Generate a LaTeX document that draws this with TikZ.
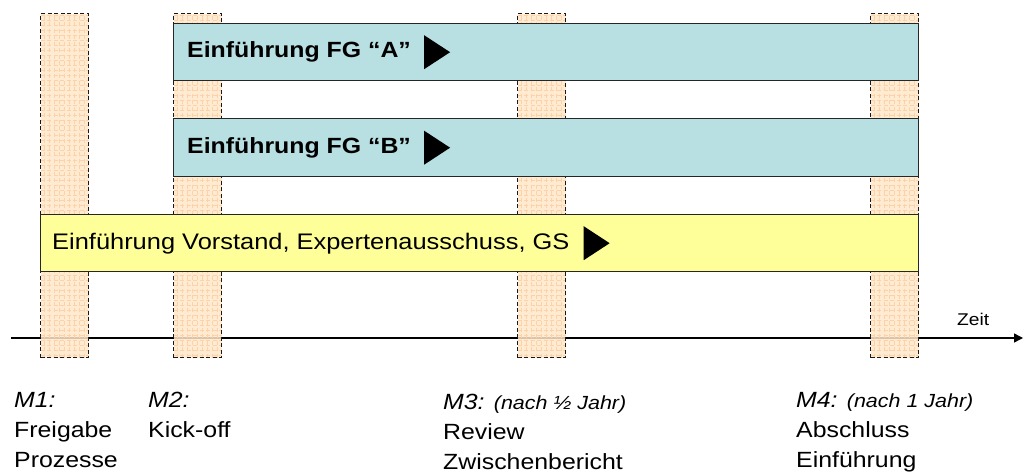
\documentclass[tikz,border=0pt]{standalone}
\usepackage{fontspec}
\setmainfont{Liberation Sans}[FakeStretch=1.13]
\usetikzlibrary{arrows.meta}
\definecolor{barblue}{RGB}{184,223,226}
\definecolor{baryellow}{RGB}{255,255,153}
\definecolor{milefill}{RGB}{255,230,202}
\definecolor{milegrid}{RGB}{253,210,168}
\begin{document}
\begin{tikzpicture}[x=1pt,y=-1pt,
  milestone/.style={draw=black!90, line width=1.3pt, dash pattern=on 4pt off 2.5pt,
    fill=milefill, fill opacity=0.85, minimum width=48pt, minimum height=344pt,
    anchor=north west, inner sep=0pt,
    path picture={\draw[milegrid, line width=1pt]
      (path picture bounding box.south west) grid[step=5pt]
      (path picture bounding box.north east);}},
  phase/.style={draw=black!85, line width=1.4pt, minimum height=57pt,
    anchor=north west, inner sep=0pt},
  phasetext/.style={anchor=west, inner sep=0pt, font=\fontsize{22}{26}\selectfont},
  mlabel/.style={anchor=north west, inner sep=0pt, align=left,
    font=\fontsize{22}{30}\selectfont},
  tri/.style={fill=black}
]
\useasboundingbox (0,0) rectangle (1027,473);

% time axis
\coordinate (t0) at (11,338);
\coordinate (t1) at (1023,338);
\draw[line width=1.4pt, -{Triangle[length=9pt,width=9pt]}] (t0) -- (t1);
\node[anchor=base west, inner sep=0pt, font=\fontsize{17}{20}\selectfont] (zeit) at (957,325) {Zeit};

% milestone columns
\node[milestone] (m1) at (40,13) {};
\node[milestone] (m2) at (173,13) {};
\node[milestone] (m3) at (517,13) {};
\node[milestone] (m4) at (870,13) {};

% phases
\node[phase, fill=barblue, minimum width=745pt] (fgA) at (173,23) {};
\node[phase, fill=barblue, minimum width=745pt, minimum height=58pt] (fgB) at (173,118) {};
\node[phase, fill=baryellow, minimum width=878pt] (vs) at (40,214) {};

\node[phasetext, font=\fontsize{22}{26}\selectfont\bfseries] (tA) at ([xshift=14pt]fgA.west) {Einführung FG “A”};
\node[phasetext, font=\fontsize{22}{26}\selectfont\bfseries] (tB) at ([xshift=14pt]fgB.west) {Einführung FG “B”};
\node[phasetext, font=\fontsize{22.5}{27}\selectfont] (tV) at ([xshift=12pt]vs.west) {Einführung Vorstand, Expertenausschuss, GS};

\fill[tri] (tA.east |- fgA.center) ++(13,-17) -- ++(0,34) -- ++(26,-17) -- cycle;
\fill[tri] (tB.east |- fgB.center) ++(13,-17) -- ++(0,34) -- ++(26,-17) -- cycle;
\fill[tri] (tV.east |- vs.center) ++(14,-17) -- ++(0,34) -- ++(26,-17) -- cycle;

% milestone descriptions
\node[mlabel] (d1) at (14,392) {\itshape M1:\\Freigabe\\Prozesse};
\node[mlabel] (d2) at (148,392) {\itshape M2:\\Kick-off};
\node[mlabel] (d3) at (443,394) {\itshape M3: {\fontsize{19}{30}\selectfont(nach ½ Jahr)}\\Review\\Zwischenbericht};
\node[mlabel] (d4) at (796,392) {\itshape M4: {\fontsize{19}{30}\selectfont(nach 1 Jahr)}\\Abschluss\\Einführung};
\end{tikzpicture}
\end{document}
